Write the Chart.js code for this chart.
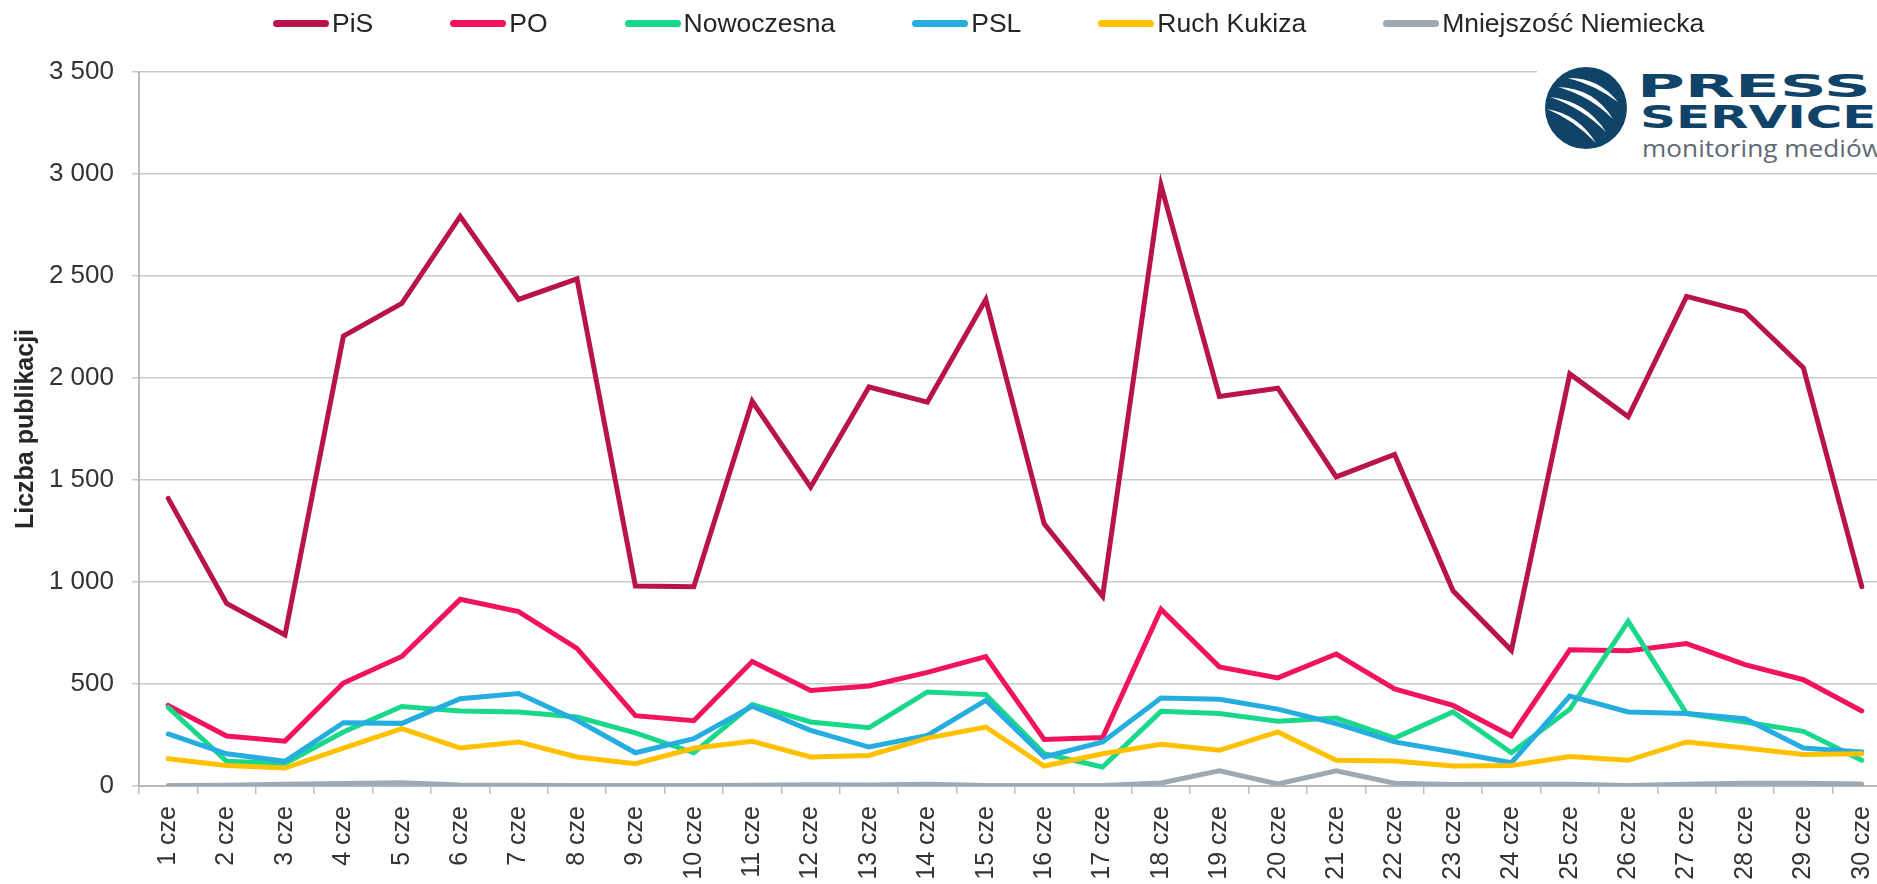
<!DOCTYPE html>
<html lang="pl">
<head>
<meta charset="utf-8">
<title>Liczba publikacji - czerwiec</title>
<script src="https://cdn.jsdelivr.net/npm/chart.js@4.4.1/dist/chart.umd.min.js"></script>
<style>
    html, body { margin: 0; padding: 0; background: #fff; overflow: hidden; }
    body { width: 1877px; height: 884px; position: relative; font-family: "Liberation Sans", Arial, sans-serif; }
    #myChart { position: absolute; left: 0; top: 0; }
    #custom-legend { position: absolute; top: 8px; left: 273px; display: flex; gap: 77px; font-size: 26.5px; line-height: 31px; color: #262626; white-space: nowrap; }
    .legend-item { display: flex; align-items: center; }
    .color-box { display: inline-block; width: 56px; height: 7px; border-radius: 4px; margin-right: 3px; }
    .logo { position: absolute; left: 1537px; top: 60px; width: 360px; height: 108px; background: #fff; }
    .logo svg { position: absolute; left: 7px; top: 6px; }
    .logo .big { position: absolute; font-family: "DejaVu Sans", sans-serif; font-weight: bold; font-size: 32px; line-height: 32px; color: #0f4468; transform-origin: 0 0; white-space: nowrap; }
    .logo .press { left: 100px; top: 10px; transform: scaleX(2.04); }
    .logo .service { left: 103px; top: 41px; transform: scaleX(1.56); }
    .logo .mon { position: absolute; left: 105px; top: 73px; font-family: "Open Sans", sans-serif; font-weight: 400; font-size: 23px; line-height: 30px; color: #5d6973; white-space: nowrap; transform: scaleX(1.14); transform-origin: 0 0; }
</style>
</head>
<body>
<canvas id="myChart" width="1905" height="884"></canvas>
<div id="custom-legend"></div>
<div class="logo">
    <svg width="84" height="84" viewBox="0 0 84 84">
        <circle cx="42" cy="42" r="41" fill="#0f4468"/>
        <path d="M24 12 Q54 11 74 36 Q51 19 24 12 Z" fill="#fff"/>
        <path d="M14 21 Q50 22 69 53 Q46 30 14 21 Z" fill="#fff"/>
        <path d="M6 31 Q42 35 62 66 Q38 42 6 31 Z" fill="#fff"/>
        <path d="M3 43 Q34 48 52 77 Q30 54 3 43 Z" fill="#fff"/>
    </svg>
    <span class="big press">PRESS</span>
    <span class="big service">SERVICE</span>
    <span class="mon">monitoring mediów</span>
</div>
<script>
// dane: czerwiec, liczba publikacji dziennie
const days = [
    "1 cze", "2 cze", "3 cze", "4 cze", "5 cze", "6 cze", "7 cze", "8 cze", "9 cze", "10 cze",
    "11 cze", "12 cze", "13 cze", "14 cze", "15 cze", "16 cze", "17 cze", "18 cze", "19 cze", "20 cze",
    "21 cze", "22 cze", "23 cze", "24 cze", "25 cze", "26 cze", "27 cze", "28 cze", "29 cze", "30 cze"
];
const pis = [1410, 895, 740, 2205, 2366, 2792, 2385, 2486, 980, 977, 1886, 1465, 1956, 1882, 2385, 1285, 930, 2945, 1910, 1950, 1515, 1625, 957, 665, 2020, 1810, 2400, 2325, 2050, 977];
const po = [395, 245, 220, 505, 635, 915, 855, 675, 345, 320, 610, 468, 490, 557, 634, 228, 238, 866, 584, 530, 647, 476, 395, 245, 668, 663, 698, 595, 521, 368];
const nowoczesna = [385, 121, 110, 265, 390, 368, 363, 338, 260, 163, 399, 314, 286, 461, 448, 158, 93, 366, 355, 318, 333, 235, 363, 163, 376, 807, 355, 314, 268, 126];
const psl = [255, 158, 121, 310, 307, 428, 453, 322, 163, 232, 391, 273, 191, 248, 420, 142, 216, 431, 425, 377, 306, 216, 167, 114, 441, 363, 355, 330, 186, 167];
const kukiza = [134, 101, 88, 186, 281, 186, 216, 142, 109, 185, 219, 142, 150, 235, 289, 98, 158, 204, 175, 265, 126, 123, 98, 101, 145, 126, 216, 186, 154, 158];
const mniejszosc = [3, 4, 8, 12, 16, 5, 4, 3, 2, 2, 4, 6, 5, 8, 3, 2, 2, 15, 74, 10, 74, 14, 7, 8, 8, 3, 8, 14, 13, 10];

const seriesNames = ["PiS", "PO", "Nowoczesna", "PSL", "Ruch Kukiza", "Mniejszość Niemiecka"];
const seriesColors = ["#b8134a", "#f2135d", "#1ad88b", "#25ade0", "#ffc000", "#9eaab2"];
const seriesData = [pis, po, nowoczesna, psl, kukiza, mniejszosc];

const yTicks = [0, 500, 1000, 1500, 2000, 2500, 3000, 3500];

// 3500 -> "3 500"
function formatNum(v) {
    return String(v).replace(/\B(?=(\d{3})+(?!\d))/g, " ");
}

const ctx = document.getElementById("myChart").getContext("2d");

const chartInstance = new Chart(ctx, {
    type: "line",
    data: {
        labels: days,
        datasets: seriesData.map((d, i) => ({
            label: seriesNames[i],
            data: d,
            borderColor: seriesColors[i],
            backgroundColor: seriesColors[i],
            borderWidth: 5,
            borderCapStyle: "round",
            pointRadius: 0,
            tension: 0,
            order: seriesData.length - i // późniejsze serie na wierzchu
        }))
    },
    options: {
        responsive: false,
        animation: false,
        layout: { padding: { top: 72, right: 14, bottom: 0, left: 0 } },
        plugins: {
            legend: { display: false },
            tooltip: { enabled: false }
        },
        scales: {
            x: {
                offset: true,
                grid: { offset: true, drawOnChartArea: false, drawTicks: true, tickLength: 8, color: "#b9bec2", lineWidth: 1.5 },
                border: { color: "#b4b9bd", width: 2 },
                ticks: { maxRotation: 90, minRotation: 90, autoSkip: false, padding: 12, color: "#333", font: { family: "Liberation Sans, Arial", size: 25 } },
                afterFit: function (scale) { scale.height = 98; }
            },
            y: {
                min: 0,
                max: yTicks[yTicks.length - 1],
                afterBuildTicks: function (scale) { scale.ticks = yTicks.map(v => ({ value: v })); },
                grid: { color: "#c6cbce", lineWidth: 1.5, tickLength: 7 },
                border: { color: "#b4b9bd", width: 2 },
                ticks: {
                    padding: 18,
                    color: "#333",
                    font: { family: "Liberation Sans, Arial", size: 26 },
                    callback: function (value) { return formatNum(value); }
                },
                title: {
                    display: true,
                    text: "Liczba publikacji",
                    color: "#262626",
                    padding: { top: 11, bottom: 0 },
                    font: { family: "Liberation Sans, Arial", size: 25, weight: "bold" }
                },
                afterFit: function (scale) { scale.width = 139; }
            }
        }
    }
});

// legenda HTML
function updateCustomLegend() {
    const chartLegend = document.getElementById("custom-legend");
    chartLegend.innerHTML = "";
    chartInstance.data.datasets.forEach((ds) => {
        const legendItem = document.createElement("div");
        legendItem.classList.add("legend-item");
        const colorBox = document.createElement("span");
        colorBox.classList.add("color-box");
        colorBox.style.backgroundColor = ds.borderColor;
        legendItem.appendChild(colorBox);
        legendItem.appendChild(document.createTextNode(ds.label));
        chartLegend.appendChild(legendItem);
    });
}
updateCustomLegend();
</script>
</body>
</html>
